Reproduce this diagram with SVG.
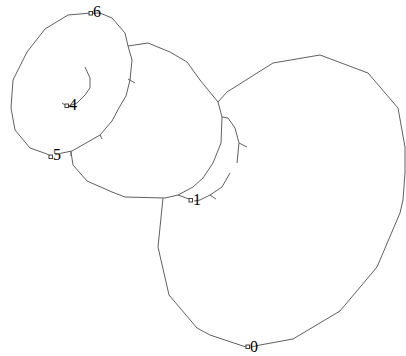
<svg xmlns="http://www.w3.org/2000/svg" width="406" height="356" viewBox="0 0 406 356">
<style>
.e{fill:none;stroke:#606060;stroke-width:1}
.n{fill:#fff;stroke:#404040;stroke-width:1}
.t{font-family:"Liberation Serif",serif;font-size:16px;fill:#000}
</style>
<rect width="406" height="356" fill="#fff"/>
<g id="connectors">
<polyline class="e" points="91,13 68,15 45,29 27,52 13,80 11,108 15,130 30,148 47,154 50,156"/>
<polyline class="e" points="55,155 62,153 72,151 100,135 112,121 120,106 126,96 130,80 132,60 128,46 125,33 112,18 100,13 93,13"/>
<polyline class="e" points="128,79 135,83"/>
<polyline class="e" points="100,135 102,139"/>
<polyline class="e" points="71,151 71,156"/>
<polyline class="e" points="128,46 148,43 170,52 187,62 200,80 218,102 222,117 221,143 213,163 203,178 193,187 178,195 165,198 125,197 112,192 87,181 73,165 71,152"/>
<polyline class="e" points="178,195 189,199"/>
<polyline class="e" points="163,198 158,247 169,295 197,328 210,335 246,347"/>
<polyline class="e" points="218,102 227,92 273,63 320,55 368,73 398,108 405,147 405,173 403,200 400,213 377,267 340,311 293,339 260,345 251,347"/>
<polyline class="e" points="222,117 228,118 235,128 239,143 237,163"/>
<polyline class="e" points="230,173 222,187 210,195 200,200 194,201"/>
<polyline class="e" points="239,143 247,147"/>
<polyline class="e" points="210,195 216,199"/>
<polyline class="e" points="85,67 90,78 90,88 85,95 77,103 69,106"/>
<polyline class="e" points="62,103 65,105"/>
</g>
<g id="node0"><rect class="n" x="246" y="345" width="3.5" height="3.5"/><text class="t" x="250" y="352">0</text></g>
<g id="node1"><rect class="n" x="189" y="198.5" width="3.5" height="3.5"/><text class="t" x="193" y="205">1</text></g>
<g id="node4"><rect class="n" x="65" y="104" width="3.5" height="3.5"/><text class="t" x="69" y="110">4</text></g>
<g id="node5"><rect class="n" x="49" y="155" width="3.5" height="3.5"/><text class="t" x="53" y="160">5</text></g>
<g id="node6"><rect class="n" x="89" y="11.5" width="3.5" height="3.5"/><text class="t" x="93" y="17">6</text></g>
</svg>
